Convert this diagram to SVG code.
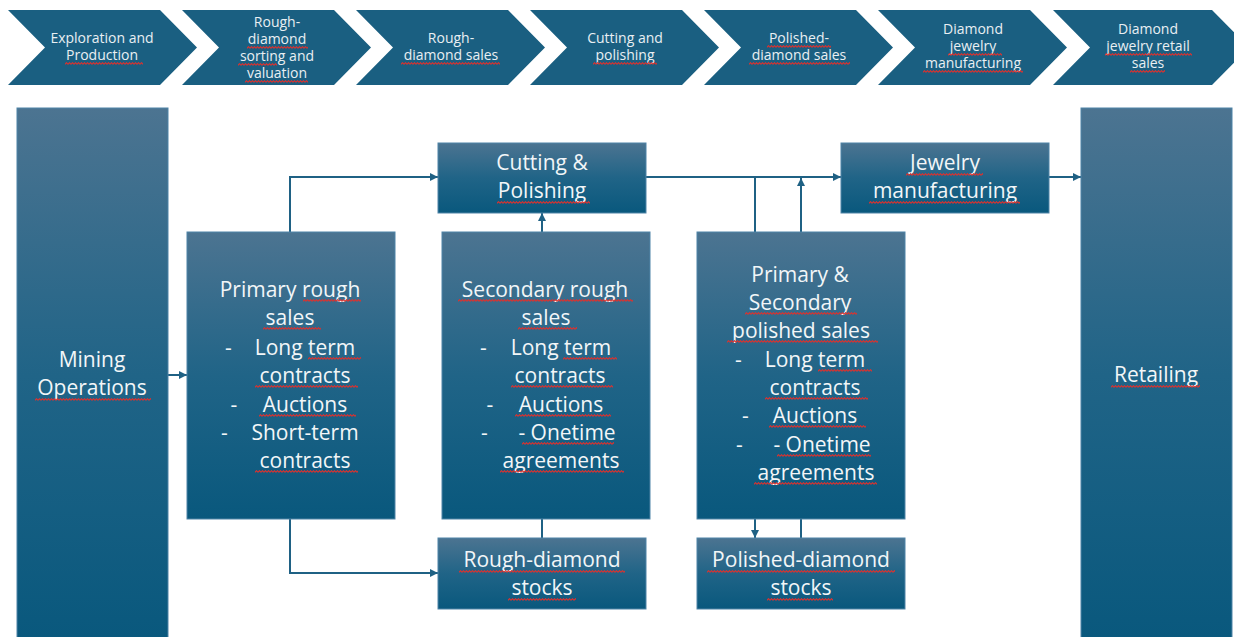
<svg xmlns="http://www.w3.org/2000/svg" width="1234" height="637" viewBox="0 0 1234 637">
<defs>
<linearGradient id="bx" x1="0" y1="0" x2="0" y2="1">
<stop offset="0" stop-color="#4c7491"/>
<stop offset="0.5" stop-color="#206487"/>
<stop offset="1" stop-color="#09587d"/>
</linearGradient>
<pattern id="sq" patternUnits="userSpaceOnUse" width="3" height="3">
<path d="M0,2.3 L1.5,0.7 L3,2.3" fill="none" stroke="#e0302c" stroke-width="1.1"/>
</pattern>
<marker id="ar" markerUnits="userSpaceOnUse" markerWidth="8" markerHeight="8" refX="8" refY="4" orient="auto">
<path d="M0,0 L8,4 L0,8 z" fill="#1f6184"/>
</marker>
</defs>
<style>
.chev{fill:#1a5f81;}
.box{fill:url(#bx);stroke:#4f84a7;stroke-width:1;}
.ct{font-family:"Open Sans","Liberation Sans",sans-serif;font-size:14px;fill:#e9eff3;text-anchor:middle;}
.bt{font-family:"Open Sans","Liberation Sans",sans-serif;font-size:21px;fill:#f2f6f8;text-anchor:middle;}
.cn{fill:none;stroke:#1f6184;stroke-width:2;}
.sq{fill:url(#sq);}
</style>
<rect width="1234" height="637" fill="#ffffff"/>

<g id="chevrons">
<g id="chev1"><polygon class="chev" points="8,10 160,10 197,47.5 160,85 8,85 45,47.5"/>
<text class="ct" x="102" y="43">Exploration and</text><text class="ct" x="102" y="60">Production</text></g>
<g id="chev2"><polygon class="chev" points="182,10 334,10 371,47.5 334,85 182,85 219,47.5"/>
<text class="ct" x="277" y="27">Rough-</text><text class="ct" x="277" y="44">diamond</text><text class="ct" x="277" y="61">sorting and</text><text class="ct" x="277" y="78">valuation</text></g>
<g id="chev3"><polygon class="chev" points="356,10 508,10 545,47.5 508,85 356,85 393,47.5"/>
<text class="ct" x="451" y="43">Rough-</text><text class="ct" x="451" y="60">diamond sales</text></g>
<g id="chev4"><polygon class="chev" points="530,10 682,10 719,47.5 682,85 530,85 567,47.5"/>
<text class="ct" x="625" y="43">Cutting and</text><text class="ct" x="625" y="60">polishing</text></g>
<g id="chev5"><polygon class="chev" points="704,10 856,10 893,47.5 856,85 704,85 741,47.5"/>
<text class="ct" x="799" y="43">Polished-</text><text class="ct" x="799" y="60">diamond sales</text></g>
<g id="chev6"><polygon class="chev" points="878,10 1030,10 1067,47.5 1030,85 878,85 915,47.5"/>
<text class="ct" x="973" y="34">Diamond</text><text class="ct" x="973" y="51">jewelry</text><text class="ct" x="973" y="68">manufacturing</text></g>
<g id="chev7"><polygon class="chev" points="1053,10 1212,10 1249,47.5 1212,85 1053,85 1090,47.5"/>
<text class="ct" x="1148" y="34">Diamond</text><text class="ct" x="1148" y="51">jewelry retail</text><text class="ct" x="1148" y="68">sales</text></g>
</g>

<g id="connectors">
<path class="cn" d="M168,375 H187" marker-end="url(#ar)"/>
<path class="cn" d="M290,232 V177 H438" marker-end="url(#ar)"/>
<path class="cn" d="M290,519 V573 H438" marker-end="url(#ar)"/>
<path class="cn" d="M542,232 V213" marker-end="url(#ar)"/>
<path class="cn" d="M542,519 V538"/>
<path class="cn" d="M646,177 H841" marker-end="url(#ar)"/>
<path class="cn" d="M755,232 V177"/>
<path class="cn" d="M801,232 V178" marker-end="url(#ar)"/>
<path class="cn" d="M755,519 V538" marker-end="url(#ar)"/>
<path class="cn" d="M801,538 V519"/>
<path class="cn" d="M1049,177 H1081" marker-end="url(#ar)"/>
</g>

<g id="mining"><rect class="box" x="17" y="108" width="151" height="535"/>
<text class="bt" x="92" y="367">Mining</text><text class="bt" x="92" y="395">Operations</text></g>

<g id="retailing"><rect class="box" x="1081" y="108" width="151" height="535"/>
<text class="bt" x="1156" y="382">Retailing</text></g>

<g id="cutting"><rect class="box" x="438" y="143" width="208" height="70"/>
<text class="bt" x="542" y="170">Cutting &amp;</text><text class="bt" x="542" y="198">Polishing</text></g>

<g id="jewelry"><rect class="box" x="841" y="143" width="208" height="70"/>
<text class="bt" x="945" y="170">Jewelry</text><text class="bt" x="945" y="198">manufacturing</text></g>

<g id="primary"><rect class="box" x="187" y="232" width="208" height="287"/>
<text class="bt" x="290" y="297">Primary rough</text>
<text class="bt" x="290" y="325">sales</text>
<text class="bt" x="228.5" y="355">-</text><text class="bt" x="305" y="355">Long term</text>
<text class="bt" x="305" y="383">contracts</text>
<text class="bt" x="234" y="412">-</text><text class="bt" x="305" y="412">Auctions</text>
<text class="bt" x="224.5" y="440">-</text><text class="bt" x="305" y="440">Short-term</text>
<text class="bt" x="305" y="468">contracts</text></g>

<g id="secondary"><rect class="box" x="442" y="232" width="208" height="287"/>
<text class="bt" x="545" y="297">Secondary rough</text>
<text class="bt" x="546" y="325">sales</text>
<text class="bt" x="483.5" y="355">-</text><text class="bt" x="561" y="355">Long term</text>
<text class="bt" x="560" y="383">contracts</text>
<text class="bt" x="490" y="412">-</text><text class="bt" x="561" y="412">Auctions</text>
<text class="bt" x="484.5" y="440">-</text><text class="bt" x="567" y="440">- Onetime</text>
<text class="bt" x="561" y="468">agreements</text></g>

<g id="polished"><rect class="box" x="697" y="232" width="208" height="287"/>
<text class="bt" x="800" y="282">Primary &amp;</text>
<text class="bt" x="800" y="310">Secondary</text>
<text class="bt" x="801" y="338">polished sales</text>
<text class="bt" x="738.5" y="367">-</text><text class="bt" x="815" y="367">Long term</text>
<text class="bt" x="815" y="395">contracts</text>
<text class="bt" x="745.5" y="423">-</text><text class="bt" x="815" y="423">Auctions</text>
<text class="bt" x="739.5" y="452">-</text><text class="bt" x="822" y="452">- Onetime</text>
<text class="bt" x="816" y="480">agreements</text></g>

<g id="rough-stocks"><rect class="box" x="438" y="538" width="208" height="71"/>
<text class="bt" x="542" y="567">Rough-diamond</text><text class="bt" x="542" y="595">stocks</text></g>

<g id="polished-stocks"><rect class="box" x="697" y="538" width="208" height="71"/>
<text class="bt" x="801" y="567">Polished-diamond</text><text class="bt" x="801" y="595">stocks</text></g>

<g id="spellcheck">
<rect class="sq" transform="translate(65,62)" width="78" height="3"/>
<rect class="sq" transform="translate(247,46)" width="61" height="3"/>
<rect class="sq" transform="translate(238,63)" width="39" height="3"/>
<rect class="sq" transform="translate(245,80)" width="63" height="3"/>
<rect class="sq" transform="translate(401,62)" width="99" height="3"/>
<rect class="sq" transform="translate(593,62)" width="64" height="3"/>
<rect class="sq" transform="translate(767,45)" width="64" height="3"/>
<rect class="sq" transform="translate(749,62)" width="101" height="3"/>
<rect class="sq" transform="translate(948,53)" width="54" height="3"/>
<rect class="sq" transform="translate(923,70)" width="100" height="3"/>
<rect class="sq" transform="translate(1105,53)" width="87" height="3"/>
<rect class="sq" transform="translate(1130,70)" width="35" height="3"/>
<rect class="sq" transform="translate(35,398)" width="116" height="3"/>
<rect class="sq" transform="translate(1111,385)" width="89" height="3"/>
<rect class="sq" transform="translate(497,201)" width="93" height="3"/>
<rect class="sq" transform="translate(906,173)" width="77" height="3"/>
<rect class="sq" transform="translate(869,201)" width="151" height="3"/>
<rect class="sq" transform="translate(459,570)" width="166" height="3"/>
<rect class="sq" transform="translate(508,598)" width="68" height="3"/>
<rect class="sq" transform="translate(707,570)" width="188" height="3"/>
<rect class="sq" transform="translate(767,598)" width="66" height="3"/>
<rect class="sq" transform="translate(303,299)" width="58" height="3"/>
<rect class="sq" transform="translate(263,327)" width="58" height="3"/>
<rect class="sq" transform="translate(308,357)" width="53" height="3"/>
<rect class="sq" transform="translate(255,385)" width="103" height="3"/>
<rect class="sq" transform="translate(259,414)" width="97" height="3"/>
<rect class="sq" transform="translate(255,470)" width="103" height="3"/>
<rect class="sq" transform="translate(458,299)" width="175" height="3"/>
<rect class="sq" transform="translate(518,327)" width="59" height="3"/>
<rect class="sq" transform="translate(563,357)" width="54" height="3"/>
<rect class="sq" transform="translate(511,385)" width="102" height="3"/>
<rect class="sq" transform="translate(515,414)" width="96" height="3"/>
<rect class="sq" transform="translate(522,442)" width="92" height="3"/>
<rect class="sq" transform="translate(500,470)" width="124" height="3"/>
<rect class="sq" transform="translate(745,312)" width="112" height="3"/>
<rect class="sq" transform="translate(727,340)" width="151" height="3"/>
<rect class="sq" transform="translate(818,369)" width="54" height="3"/>
<rect class="sq" transform="translate(765,397)" width="103" height="3"/>
<rect class="sq" transform="translate(769,425)" width="97" height="3"/>
<rect class="sq" transform="translate(777,454)" width="94" height="3"/>
<rect class="sq" transform="translate(754,482)" width="123" height="3"/>
</g>
</svg>
